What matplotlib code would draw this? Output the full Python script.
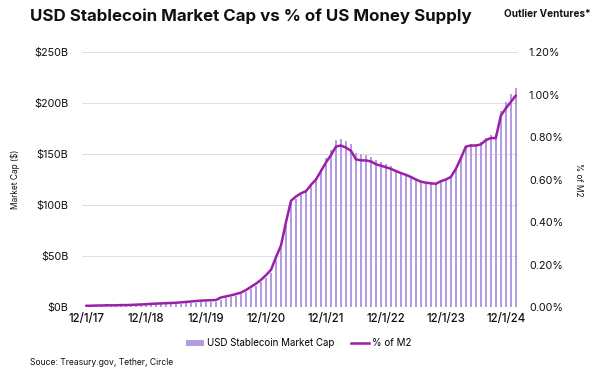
import matplotlib
matplotlib.use("Agg")
import matplotlib.pyplot as plt
from matplotlib.patches import Patch
from matplotlib.lines import Line2D
import numpy as np

plt.rcParams['font.family'] = ['Inter', 'DejaVu Sans']

# Monthly data, Dec 2017 .. Feb 2025
market_cap_b = [1.4, 1.4, 1.5, 1.5, 1.7, 1.7, 1.7, 1.8, 1.8, 2.0, 2.1, 2.3,
                2.3, 2.6, 2.7, 2.9, 2.9, 3.1, 3.2, 3.4, 3.8, 4.1, 4.4, 4.7,
                4.7, 4.9, 5.1, 7.2, 8.9, 9.9, 11.1, 12.4, 14.7, 17.7, 20.6, 24.2,
                28.7, 33.8, 46.1, 57.7, 80.4, 101.5, 106.1, 110.2, 112.8, 120.2, 126.0, 135.7,
                146.2, 154.4, 163.8, 164.9, 162.8, 159.5, 150.8, 149.7, 149.0, 147.3, 143.8, 142.3,
                140.2, 137.8, 134.4, 131.0, 129.4, 127.3, 124.8, 122.7, 121.7, 121.1, 120.6, 123.1,
                124.8, 127.3, 135.2, 146.3, 157.8, 159.6, 159.6, 161.4, 165.6, 168.5, 169.3, 192.6,
                201.0, 208.4, 214.9]
pct_m2 = [0.006, 0.006, 0.007, 0.007, 0.008, 0.008, 0.008, 0.009, 0.009, 0.010, 0.011, 0.012,
          0.013, 0.015, 0.016, 0.017, 0.018, 0.019, 0.020, 0.022, 0.024, 0.026, 0.028, 0.030,
          0.031, 0.032, 0.033, 0.045, 0.050, 0.055, 0.061, 0.068, 0.080, 0.095, 0.110, 0.128,
          0.150, 0.175, 0.235, 0.290, 0.400, 0.500, 0.520, 0.535, 0.545, 0.575, 0.600, 0.640,
          0.680, 0.715, 0.755, 0.760, 0.750, 0.735, 0.695, 0.690, 0.690, 0.685, 0.672, 0.665,
          0.658, 0.650, 0.640, 0.630, 0.622, 0.612, 0.600, 0.590, 0.585, 0.582, 0.580, 0.592,
          0.600, 0.612, 0.650, 0.700, 0.755, 0.760, 0.760, 0.765, 0.785, 0.795, 0.795, 0.900,
          0.935, 0.965, 0.995]
xtick_labels = ["12/1/17", "12/1/18", "12/1/19", "12/1/20",
                "12/1/21", "12/1/22", "12/1/23", "12/1/24"]
left_ticks = [0, 50, 100, 150, 200, 250]
right_ticks = [0.0, 0.2, 0.4, 0.6, 0.8, 1.0, 1.2]

bar_color = "#b49ce0"
line_color = "#9c1fa8"
text_color = "#111111"

fig = plt.figure(figsize=(6, 3.71), dpi=100)
ax = fig.add_axes([0.137, 0.1725, 0.726, 0.6873])
ax2 = ax.twinx()

x = np.arange(len(market_cap_b))
ax.bar(x, market_cap_b, width=0.42, color=bar_color, zorder=2)
ax2.plot(x, pct_m2, color=line_color, lw=1.8, zorder=3, solid_capstyle='round')

ax.set_ylim(0, 250)
ax2.set_ylim(0, 1.2)
ax.set_xlim(-0.8, 86.4)
ax.set_yticks(left_ticks)
ax.set_yticklabels([f"${v}B" for v in left_ticks])
ax2.set_yticks(right_ticks)
ax2.set_yticklabels([f"{v:.2f}%" for v in right_ticks])
ax.set_xticks(np.arange(0, 85, 12))
ax.set_xticklabels(xtick_labels)

ax.grid(axis='y', color="#dddddd", lw=0.7, zorder=0)
ax.set_axisbelow(True)
for a in (ax, ax2):
    for s in a.spines.values():
        s.set_visible(False)
    a.tick_params(length=0, colors=text_color)
ax.tick_params(axis='y', labelsize=7.8, pad=10)
ax2.tick_params(axis='y', labelsize=7.8, pad=8)
ax.tick_params(axis='x', labelsize=8.3, pad=4)
for lbl in ax.get_xticklabels():
    lbl.set_fontweight('medium')

ax.set_ylabel("Market Cap ($)", fontsize=6, color=text_color, labelpad=10)
ax2.set_ylabel("% of M2", fontsize=6, color=text_color, rotation=-90, labelpad=14)

fig.text(0.05, 0.955, "USD Stablecoin Market Cap vs % of US Money Supply",
         fontsize=12.2, fontweight='bold', color=text_color, va='center', ha='left')
fig.text(0.985, 0.963, "Outlier Ventures*", fontsize=7.2, fontweight='bold',
         color=text_color, va='center', ha='right')

handles = [Patch(facecolor=bar_color, edgecolor='none', label="USD Stablecoin Market Cap"),
           Line2D([0], [0], color=line_color, lw=1.8, label="% of M2")]
fig.legend(handles=handles, loc='center', bbox_to_anchor=(0.498, 0.075), ncol=2,
           frameon=False, fontsize=7, handlelength=1.85, handleheight=0.6,
           columnspacing=1.65, handletextpad=0.3)

fig.text(0.05, 0.022, "Souce: Treasury.gov, Tether, Circle", fontsize=6.2,
         color=text_color, va='center', ha='left')

fig.savefig("out.png", dpi=100, facecolor='white')
